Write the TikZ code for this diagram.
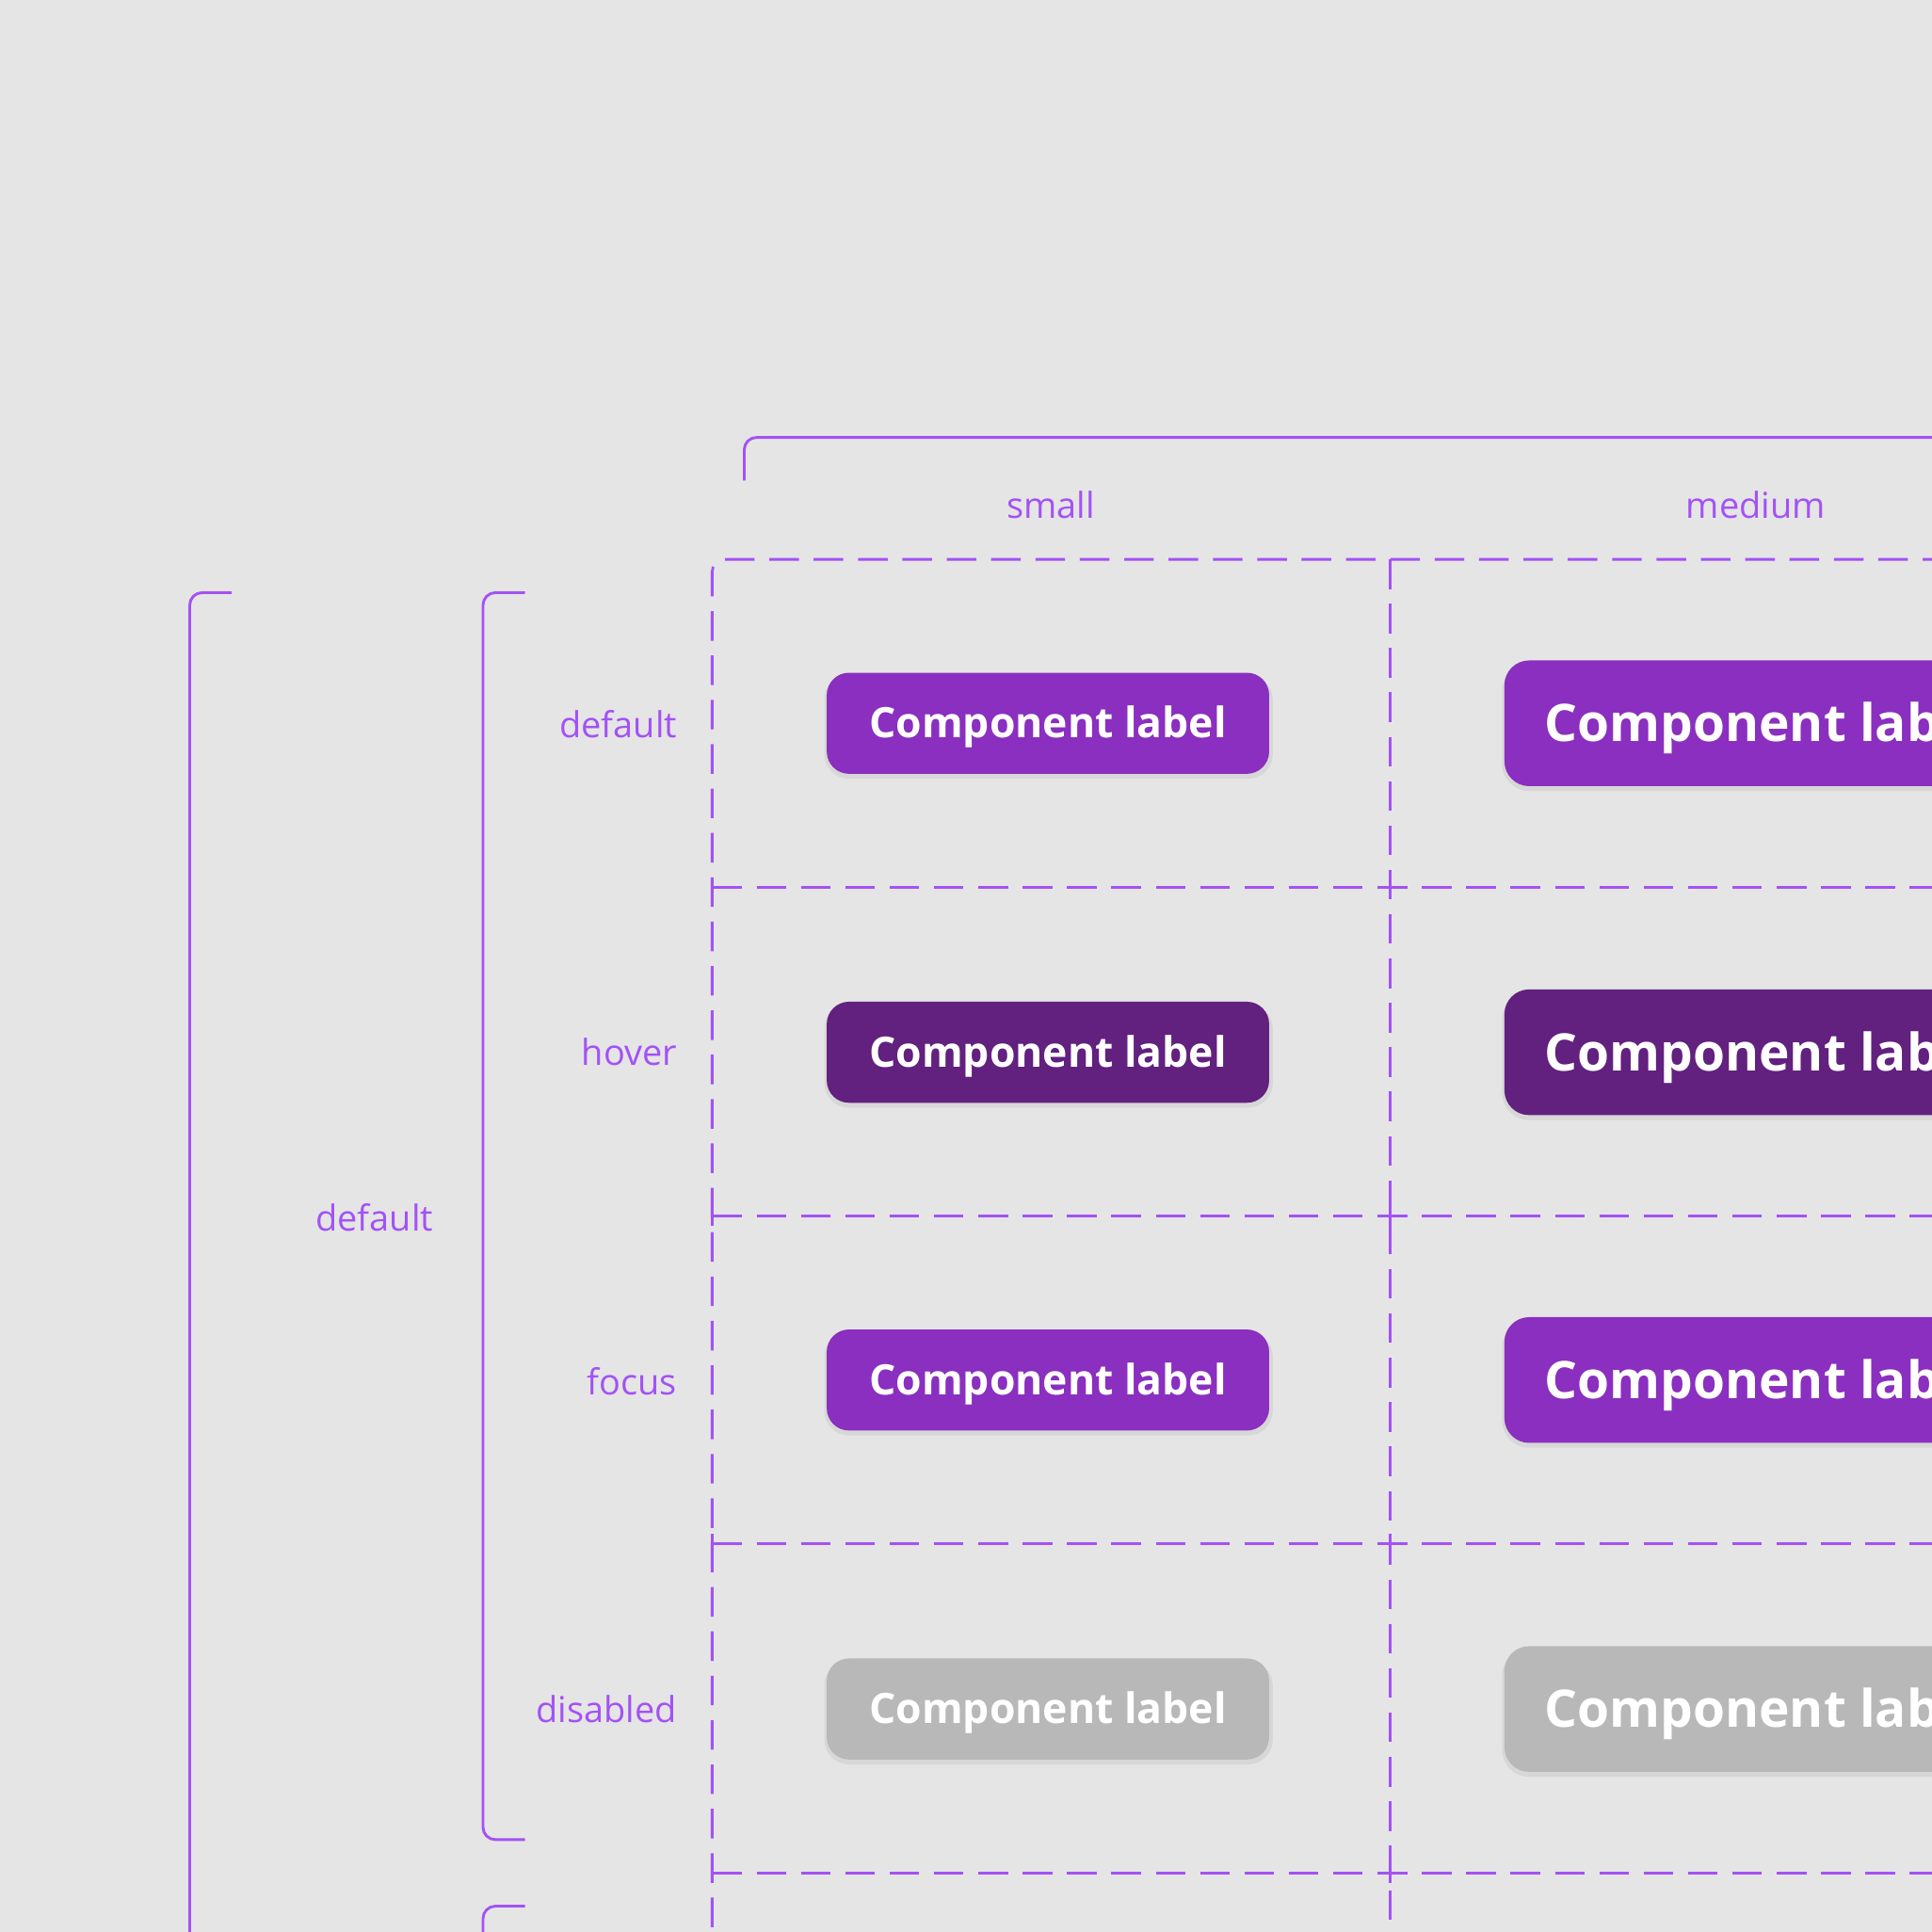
\documentclass[tikz,border=0pt]{standalone}
\usepackage{fontspec}
\setmainfont{Open Sans}
\begin{document}
\begin{tikzpicture}[x=1pt,y=-1pt,
  pur/.style={draw=guide,line width=2.2pt},
  dsh/.style={draw=guide,line width=2.2pt,dash pattern=on 24pt off 12pt},
  lab/.style={text=guide,font=\fontsize{29}{32}\selectfont},
  bt/.style={text=white,font=\fontsize{34}{38}\selectfont\bfseries}]
\definecolor{bg}{HTML}{E5E5E5}
\definecolor{guide}{HTML}{A352F5}
\definecolor{cdef}{HTML}{8A2FBF}
\definecolor{chov}{HTML}{62207F}
\definecolor{cdis}{HTML}{B8B8B8}
\fill[bg] (0,0) rectangle (1568,1568);
\useasboundingbox (0,0) rectangle (1568,1568);
\begin{scope}
\clip (0,0) rectangle (1568,1568);
% top bracket
\draw[pur,rounded corners=10pt] (604,390) -- (604,355) -- (1600,355);
\node[lab] (small) at (853,410) {small};
\node[lab] (medium) at (1425,410) {medium};
% dashed grid
\draw[dsh,rounded corners=10pt] (578,1600) -- (578,454) -- (1600,454);
\draw[dsh] (1128,454) -- (1128,1600);
\foreach \y in {720,987,1253,1520}{
  \draw[dsh] (578,\y) -- (1600,\y);
  \draw[pur] (1120,\y) -- (1136,\y);
  \draw[pur] (1128,\y-8) -- (1128,\y+8);
  \draw[pur] (578,\y-8) -- (578,\y+8);
}
% left brackets
\draw[pur,rounded corners=10pt] (188,481) -- (154,481) -- (154,1600);
\draw[pur,rounded corners=10pt] (426,481) -- (392,481) -- (392,1493) -- (426,1493);
\draw[pur,rounded corners=10pt] (426,1547) -- (392,1547) -- (392,1600);
\node[lab] (g) at (304,988) {default};
\node[lab,anchor=east] (r1) at (553,588) {default};
\node[lab,anchor=east] (r2) at (553,854) {hover};
\node[lab,anchor=east] (r3) at (553,1121) {focus};
\node[lab,anchor=east] (r4) at (553,1387) {disabled};
% buttons
\foreach \c/\y [count=\i] in {cdef/587,chov/854,cdef/1120,cdis/1387}{
  \fill[black,opacity=0.06,rounded corners=20pt] (669,\y-39) rectangle (1033,\y+45);
  \fill[\c,rounded corners=18pt] (671,\y-41) rectangle (1030,\y+41);
  \node[bt] (s\i) at (850.5,\y+3) {Component label};
  \fill[black,opacity=0.06,rounded corners=22pt] (1219,\y-49) rectangle (1650,\y+55);
  \fill[\c,rounded corners=20pt] (1221,\y-51) rectangle (1650,\y+51);
  \node[bt,font=\fontsize{42}{46}\selectfont\bfseries,anchor=west] (m\i) at (1250,\y+4) {Component label};
}
\end{scope}
\end{tikzpicture}
\end{document}
